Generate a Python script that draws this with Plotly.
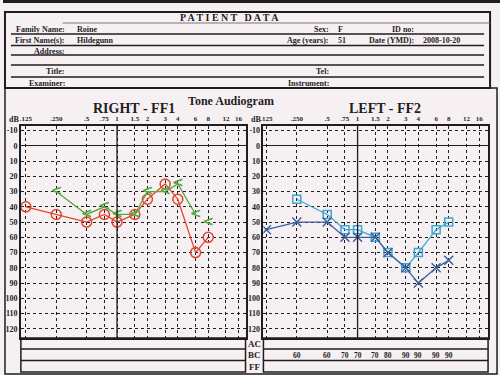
import math
import plotly.graph_objects as go

# ---------------- data ----------------
freqs = [0.125, 0.25, 0.5, 0.75, 1, 1.5, 2, 3, 4, 6, 8, 12, 16]
freq_labels = [".125", ".250", ".5", ".75", "1", "1.5", "2", "3", "4", "6", "8", "12", "16"]
db_ticks = [-10, 0, 10, 20, 30, 40, 50, 60, 70, 80, 90, 100, 110, 120]

right_ac_freq = [0.125, 0.25, 0.5, 0.75, 1, 1.5, 2, 3, 4, 6, 8]
right_ac_db = [40, 45, 50, 45, 50, 45, 35, 25, 35, 70, 60]
right_bc_freq = [0.25, 0.5, 0.75, 1, 1.5, 2, 3, 4, 6]
right_bc_db = [30, 45, 40, 45, 45, 30, 30, 25, 45]
right_bc_nr_freq = [8]
right_bc_nr_db = [50]

left_ac_freq = [0.125, 0.25, 0.5, 0.75, 1, 1.5, 2, 3, 4, 6, 8]
left_ac_db = [55, 50, 50, 60, 60, 60, 70, 80, 90, 80, 75]
left_bc_freq = [0.25, 0.5, 0.75, 1, 1.5, 2, 3, 4, 6, 8]
left_bc_db = [35, 45, 55, 55, 60, 70, 80, 70, 55, 50]

left_table_freq = [0.25, 0.5, 0.75, 1, 1.5, 2, 3, 4, 6, 8]
left_table_bc = [60, 60, 70, 70, 70, 80, 90, 90, 90, 90]

header_fields = [
    ("Family Name:", "Roine", 29), ("First Name(s):", "Hildegunn", 41),
    ("Address:", "", 51), ("Title:", "", 71), ("Examiner:", "", 83),
]
header_fields_mid = [("Sex:", "F", 29), ("Age (years):", "51", 41), ("Tel:", "", 71), ("Instrument:", "", 83)]
header_fields_right = [("ID no:", "", 29), ("Date (YMD):", "2008-10-20", 41)]

# ---------------- helpers ----------------
W, H = 500, 375
def px(x): return x / W
def py(y): return 1 - y / H

BG = "rgb(247,240,243)"
INK = "#1e1e1e"
SERIF = "Liberation Serif"
RED = "#e2452f"
GREEN = "#55a83e"
LBLUE = "#3aa8d4"
DBLUE = "#3d5f9e"

fig = go.Figure()

def add_line(x, y, color, symbol, xa, ya, mode="lines+markers", size=9, lw=1.3):
    fig.add_trace(go.Scatter(
        x=x, y=y, mode=mode, xaxis=xa, yaxis=ya,
        line=dict(color=color, width=lw),
        marker=dict(symbol=symbol, size=size, color=color, line=dict(color=color, width=1.5)),
        showlegend=False, hoverinfo="skip"))

def add_text_marks(x, y, color, glyph, xa, ya, with_line=True):
    fig.add_trace(go.Scatter(
        x=x, y=y, mode="lines+text" if with_line else "text", xaxis=xa, yaxis=ya,
        line=dict(color=color, width=1.3),
        text=[f"<b>{glyph}</b>"] * len(x), textposition="middle center",
        textfont=dict(family="DejaVu Sans", size=14, color=color),
        showlegend=False, hoverinfo="skip"))

add_line(right_ac_freq, right_ac_db, RED, "circle-open", "x", "y", size=10)
add_text_marks(right_bc_freq, right_bc_db, GREEN, "<", "x", "y")
add_text_marks(right_bc_nr_freq, right_bc_nr_db, GREEN, "<", "x", "y", with_line=False)
add_line(left_bc_freq, left_bc_db, LBLUE, "square-open", "x2", "y2", size=8)
add_line(left_ac_freq, left_ac_db, DBLUE, "x-thin-open", "x2", "y2", size=9)

def xaxis_cfg(domain, rng):
    return dict(
        type="log", domain=domain, range=rng, side="top",
        tickvals=freqs, ticktext=[f"<b>{t}</b>" for t in freq_labels],
        tickfont=dict(family=SERIF, size=7, color=INK), tickangle=0, ticks="",
        showgrid=True, griddash="dot", gridcolor=INK, gridwidth=1,
        showline=True, mirror=True, linecolor=INK, linewidth=1.5,
        zeroline=False, fixedrange=True)

def yaxis_cfg(anchor):
    return dict(
        domain=[py(338), py(126)], range=[126, -13], anchor=anchor,
        tickvals=db_ticks, ticktext=[f"<b>{t}</b>" for t in db_ticks],
        tickfont=dict(family=SERIF, size=8, color=INK), ticks="",
        showgrid=True, griddash="dot", gridcolor=INK, gridwidth=1,
        zeroline=True, zerolinecolor=INK, zerolinewidth=1.3,
        showline=True, mirror=True, linecolor=INK, linewidth=1.5,
        fixedrange=True)

l2 = math.log10(2)
fig.update_layout(
    width=W, height=H, margin=dict(l=0, r=0, t=0, b=0),
    paper_bgcolor=BG, plot_bgcolor=BG, showlegend=False,
    xaxis=xaxis_cfg([px(18), px(244)], [(-3 - 5 / 30.57) * l2, (4 + 7 / 30.57) * l2]) | dict(anchor="y"),
    yaxis=yaxis_cfg("x"),
    xaxis2=xaxis_cfg([px(262), px(488)], [(-3 - 3 / 30.57) * l2, (4 + 9 / 30.57) * l2]) | dict(anchor="y2"),
    yaxis2=yaxis_cfg("x2"),
)

shapes = []
def pline(x0, y0, x1, y1, w=1.2, color=INK):
    shapes.append(dict(type="line", xref="paper", yref="paper",
                       x0=px(x0), y0=py(y0), x1=px(x1), y1=py(y1),
                       line=dict(color=color, width=w)))
def prect(x0, y0, x1, y1, w=1.5):
    shapes.append(dict(type="rect", xref="paper", yref="paper",
                       x0=px(x0), y0=py(y0), x1=px(x1), y1=py(y1),
                       line=dict(color=INK, width=w)))

# header
pline(0, 1.5, 500, 1.5, w=3)
prect(2, 12, 490, 88, w=2)
pline(60, 23, 490, 23, w=1, color="#777")
for yy in [34, 45.5, 55, 65, 77]:
    pline(8, yy, 484, yy, w=1.3)
# lower frame
prect(2, 88, 497, 374, w=1.5)
# bottom tables
for (x0, x1) in [(18, 244), (262, 488)]:
    prect(x0, 338, x1, 372, w=1.5)
    pline(x0, 349, x1, 349, w=1.3)
    pline(x0, 360.5, x1, 360.5, w=1.3)
# 1 kHz solid lines
for xr, yr in [("x", "y"), ("x2", "y2")]:
    shapes.append(dict(type="line", xref=xr, yref=f"{yr} domain", x0=1, x1=1, y0=0, y1=1,
                       line=dict(color=INK, width=1.3)))
fig.update_layout(shapes=shapes)

ann = []
def text(x, y, s, size=8, xanchor="center", bold=True, xref="paper"):
    ann.append(dict(x=px(x) if xref == "paper" else x, y=py(y), xref=xref, yref="paper",
                    text=f"<b>{s}</b>" if bold else s, showarrow=False,
                    xanchor=xanchor, yanchor="middle",
                    font=dict(family=SERIF, size=size, color=INK)))

text(228, 17, "P A T I E N T &nbsp; D A T A", size=10)
for lab, val, yy in header_fields:
    text(64, yy, lab, xanchor="right")
    if val:
        text(72, yy, val, xanchor="left")
for lab, val, yy in header_fields_mid:
    text(330, yy, lab, xanchor="right")
    if val:
        text(335, yy, val, xanchor="left")
for lab, val, yy in header_fields_right:
    text(415, yy, lab, xanchor="right")
    if val:
        text(421, yy, val, xanchor="left")

text(229, 101, "Tone Audiogram", size=12)
text(132, 109, "RIGHT - FF1", size=14)
text(384, 109, "LEFT - FF2", size=14)
text(11, 119, "dB", size=8)
text(255, 119, "dB", size=8)
for lab, yy in [("AC", 344), ("BC", 355), ("FF", 366.5)]:
    text(253, yy, lab, size=9)
for f, v in zip(left_table_freq, left_table_bc):
    # annotation x on a log axis is given in log10 units
    text(math.log10(f), 355, str(v), size=7.5, xref="x2")

fig.update_layout(annotations=ann)
fig.write_html("out.html", config={"displayModeBar": False},
               post_script="document.body.style.margin='0';document.body.style.overflow='hidden';")
